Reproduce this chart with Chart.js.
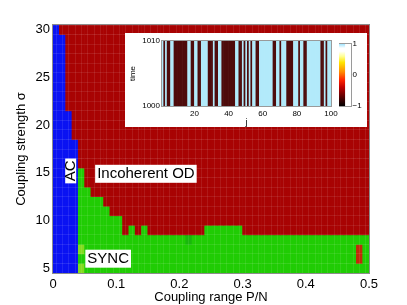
<!DOCTYPE html>
<html>
<head>
<meta charset="utf-8">
<script src="https://cdn.jsdelivr.net/npm/chart.js@4.4.0/dist/chart.umd.min.js"></script>
<style>
  html, body { margin: 0; padding: 0; background: #fff; }
  #wrap { position: relative; width: 407px; height: 305px; overflow: hidden; }
  #main { position: absolute; left: 0; top: 0; }
  #inset { position: absolute; left: 125px; top: 33px; background: #fff; }
  #cbar { position: absolute; left: 339px; top: 37px; }
</style>
</head>
<body>
<div id="wrap">
  <canvas id="main" width="407" height="305"></canvas>
  <canvas id="inset" width="242" height="94"></canvas>
  <canvas id="cbar" width="28" height="78"></canvas>
</div>
<script>
const FONT = "'Liberation Sans', Arial, Helvetica, sans-serif";

// coupling range: P neighbours out of N oscillators, one column per P
const N = 100;
const P = [1, 2, 3, 4, 5, 6, 7, 8, 9, 10, 11, 12, 13, 14, 15, 16, 17, 18, 19, 20,
           21, 22, 23, 24, 25, 26, 27, 28, 29, 30, 31, 32, 33, 34, 35, 36, 37, 38, 39, 40,
           41, 42, 43, 44, 45, 46, 47, 48, 49, 50];
// coupling strength sigma, one row each
const sigma = [5, 6, 7, 8, 9, 10, 11, 12, 13, 14, 15, 16, 17, 18, 19, 20,
               21, 22, 23, 24, 25, 26, 27, 28, 29, 30];
const xTicks = [0, 0.1, 0.2, 0.3, 0.4, 0.5];
const yTicks = [5, 10, 15, 20, 25, 30];

// number of AC columns (blue) in each sigma row, sigma = 5..30
const acCols = [4, 4, 4, 4, 4, 4, 4, 4, 4, 4, 4, 4, 4, 4, 3, 3, 3, 2, 2, 2, 2, 2, 2, 2, 2, 1];
// largest sigma still SYNC in each column P = 1..50 (above it: incoherent OD)
const syncTop = [0, 0, 0, 0, 15, 13, 12, 12, 11, 10, 10, 8, 9, 8, 9, 8, 8, 8, 8, 8,
                 8, 8, 8, 8, 9, 9, 9, 9, 9, 9, 8, 8, 8, 8, 8, 8, 8, 8, 8, 8,
                 8, 8, 8, 8, 8, 8, 8, 8, 8, 8];
// single cells with a different shade, [P, sigma]
const syncLight = [[5, 5], [5, 7]];
const syncDark = [[22, 8]];
const odLight = [[49, 6], [49, 7]];

// inset: sites j and the ones sitting in the lower (dark) state
const sites = [1, 2, 3, 4, 5, 6, 7, 8, 9, 10, 11, 12, 13, 14, 15, 16, 17, 18, 19, 20,
               21, 22, 23, 24, 25, 26, 27, 28, 29, 30, 31, 32, 33, 34, 35, 36, 37, 38, 39, 40,
               41, 42, 43, 44, 45, 46, 47, 48, 49, 50, 51, 52, 53, 54, 55, 56, 57, 58, 59, 60,
               61, 62, 63, 64, 65, 66, 67, 68, 69, 70, 71, 72, 73, 74, 75, 76, 77, 78, 79, 80,
               81, 82, 83, 84, 85, 86, 87, 88, 89, 90, 91, 92, 93, 94, 95, 96, 97, 98, 99];
const darkSites = [2, 4, 5, 8, 9, 10, 11, 12, 13, 14, 15, 18, 19, 22, 23, 28, 29, 30, 32, 33,
                   36, 37, 38, 39, 40, 41, 42, 43, 46, 47, 49, 51, 53, 56, 57, 66, 67, 70,
                   74, 75, 76, 77, 81, 84, 85, 94, 95, 97];
const timeSpan = [1000, 1010];
const insetXTicks = [20, 40, 60, 80, 100];
const cbarTicks = [-1, 0, 1];

// colours: AC, OD, SYNC, light SYNC, dark SYNC, light OD
const stateColor = ['#0a12f2', '#a80303', '#20cc04', '#82dc1e', '#19b70c', '#c02a0a'];
const hasCell = (list, p, s) => list.some(c => c[0] === p && c[1] === s);

const cells = [];
const cellColors = [];
sigma.forEach((s, si) => {
  P.forEach((p, pi) => {
    let st = pi < acCols[si] ? 0 : (s <= syncTop[pi] ? 2 : 1);
    if (hasCell(syncLight, p, s)) st = 3;
    if (hasCell(syncDark, p, s)) st = 4;
    if (hasCell(odLight, p, s)) st = 5;
    cells.push({ x: (p - 0.5) / N, y: [s - 0.5, s + 0.5] });
    cellColors.push(stateColor[st]);
  });
});

// cell edges for the faint mesh lines
const xEdges = [0].concat(P.map(p => p / N));
const yEdges = [sigma[0] - 0.5].concat(sigma.map(s => s + 0.5));

const frame = {
  id: 'frame',
  afterDraw(chart, args, opts) {
    const { ctx, chartArea: a } = chart;
    ctx.save();
    ctx.strokeStyle = opts.color || '#8c8c8c';
    ctx.lineWidth = 1;
    ctx.strokeRect(Math.round(a.left) - 0.5, Math.round(a.top) - 0.5,
                   Math.round(a.width) + 1, Math.round(a.height) + 1);
    ctx.restore();
  }
};

const regionLabels = {
  id: 'regionLabels',
  afterDraw(chart, args, opts) {
    const { ctx, scales: { x, y } } = chart;
    ctx.save();
    ctx.font = '15px ' + FONT;
    ctx.textAlign = 'center';
    ctx.textBaseline = 'middle';
    opts.items.forEach(l => {
      const w = ctx.measureText(l.text).width + 4;
      const h = l.h || 18;
      ctx.save();
      ctx.translate(x.getPixelForValue(l.x), y.getPixelForValue(l.y));
      if (l.rotate) ctx.rotate(-Math.PI / 2);
      ctx.fillStyle = '#fff';
      ctx.fillRect(-w / 2, -h / 2, w, h);
      ctx.fillStyle = '#000';
      ctx.fillText(l.text, 0, 0.5);
      ctx.restore();
    });
    ctx.restore();
  }
};

Chart.defaults.font.family = FONT;
Chart.defaults.color = '#000';

new Chart(document.getElementById('main'), {
  type: 'bar',
  data: {
    datasets: [{
      label: 'state',
      data: cells,
      backgroundColor: cellColors,
      borderWidth: 0,
      grouped: false,
      barPercentage: 1,
      categoryPercentage: 1
    }]
  },
  options: {
    responsive: false,
    animation: false,
    devicePixelRatio: 1,
    layout: { padding: { top: 25, right: 38, left: 0, bottom: 0 } },
    plugins: {
      legend: { display: false },
      tooltip: { enabled: false },
      frame: { color: '#8c8c8c' },
      regionLabels: {
        items: [
          { text: 'AC', x: 0.028, y: 15.2, rotate: true, h: 11 },
          { text: 'Incoherent OD', x: 0.147, y: 14.9 },
          { text: 'SYNC', x: 0.0873, y: 6.0 }
        ]
      }
    },
    scales: {
      x: {
        type: 'linear', min: 0, max: 0.5, offset: false,
        afterBuildTicks: s => { s.ticks = xEdges.map(v => ({ value: v })); },
        afterFit: s => { s.height = 32; },
        ticks: {
          autoSkip: false, maxRotation: 0, padding: 4, font: { size: 13 },
          callback: v => {
            const t = xTicks.find(k => Math.abs(k - v) < 1e-9);
            return t === undefined ? '' : String(t);
          }
        },
        grid: { z: 1, drawTicks: false, color: 'rgba(255,255,255,0.09)' },
        border: { display: false },
        title: { display: true, text: 'Coupling range P/N', font: { size: 13 }, padding: { top: 0, bottom: 0 } }
      },
      y: {
        type: 'linear', min: 4.5, max: 30.5,
        afterBuildTicks: s => { s.ticks = yEdges.concat(yTicks).sort((a, b) => a - b).map(v => ({ value: v })); },
        afterFit: s => { s.width = 53; },
        ticks: {
          autoSkip: false, padding: 3, font: { size: 13 },
          callback: v => (yTicks.includes(v) ? String(v) : '')
        },
        grid: {
          z: 1, drawTicks: false,
          color: c => (c.tick && yTicks.includes(c.tick.value) ? 'rgba(0,0,0,0)' : 'rgba(255,255,255,0.09)')
        },
        border: { display: false },
        title: { display: true, text: 'Coupling strength σ', font: { size: 13 }, padding: { top: 14, bottom: 0 } }
      }
    }
  },
  plugins: [regionLabels, frame]
});

// inset: space-time plot of the oscillators
new Chart(document.getElementById('inset'), {
  type: 'bar',
  data: {
    datasets: [{
      label: 'x_j',
      data: sites.map(j => ({ x: j + 0.5, y: timeSpan })),
      backgroundColor: sites.map(j => (darkSites.includes(j) ? '#4e0c0c' : '#b2eafa')),
      borderWidth: 0,
      grouped: false,
      barPercentage: 1,
      categoryPercentage: 1
    }]
  },
  options: {
    responsive: false,
    animation: false,
    devicePixelRatio: 1,
    layout: { padding: { top: 8, right: 36, left: 0, bottom: 0 } },
    plugins: { legend: { display: false }, tooltip: { enabled: false }, frame: { color: '#9a9a9a' } },
    scales: {
      x: {
        type: 'linear', min: 1, max: 100, offset: false,
        afterBuildTicks: s => { s.ticks = insetXTicks.map(v => ({ value: v })); },
        afterFit: s => { s.height = 21; },
        ticks: { autoSkip: false, maxRotation: 0, padding: 3, font: { size: 8 }, callback: v => String(v) },
        grid: { display: false, drawTicks: false },
        border: { display: false },
        title: { display: true, text: 'j', font: { size: 9, lineHeight: 1 }, padding: { top: 0, bottom: 0 } }
      },
      y: {
        type: 'linear', min: timeSpan[0], max: timeSpan[1],
        afterBuildTicks: s => { s.ticks = timeSpan.map(v => ({ value: v })); },
        afterFit: s => { s.width = 37; },
        ticks: { autoSkip: false, padding: 2, font: { size: 8 }, callback: v => String(v) },
        grid: { display: false, drawTicks: false },
        border: { display: false },
        title: { display: true, text: 'time', font: { size: 8 }, padding: { top: 3, bottom: 0 } }
      }
    }
  },
  plugins: [frame]
});

// colour bar of the inset
const cbarStops = [[0, '#000000'], [0.1, '#3c0000'], [0.3, '#c00000'], [0.42, '#ff2400'],
                   [0.55, '#ff8c00'], [0.7, '#ffe400'], [0.8, '#ffff96'], [0.88, '#ffffff'],
                   [0.93, '#ffffff'], [0.97, '#c8f0ff'], [1, '#9fe3ff']];
new Chart(document.getElementById('cbar'), {
  type: 'bar',
  data: {
    labels: [''],
    datasets: [{
      label: 'colour',
      data: [[cbarTicks[0], cbarTicks[cbarTicks.length - 1]]],
      backgroundColor: c => {
        const a = c.chart.chartArea;
        if (!a) return '#fff';
        const g = c.chart.ctx.createLinearGradient(0, a.bottom, 0, a.top);
        cbarStops.forEach(s => g.addColorStop(s[0], s[1]));
        return g;
      },
      borderWidth: 0,
      barPercentage: 1,
      categoryPercentage: 1
    }]
  },
  options: {
    responsive: false,
    animation: false,
    devicePixelRatio: 1,
    layout: { padding: { top: 0, right: 0, left: 0, bottom: 9 } },
    plugins: { legend: { display: false }, tooltip: { enabled: false }, frame: { color: '#9a9a9a' } },
    scales: {
      x: { display: false, offset: false },
      y: {
        position: 'right', min: -1, max: 1,
        afterBuildTicks: s => { s.ticks = cbarTicks.map(v => ({ value: v })); },
        afterFit: s => { s.width = 16.5; },
        ticks: { padding: 2, font: { size: 8 }, callback: v => (v < 0 ? '\u2212' + Math.abs(v) : String(v)) },
        grid: { display: false, drawTicks: false },
        border: { display: false }
      }
    }
  },
  plugins: [frame]
});
</script>
</body>
</html>
